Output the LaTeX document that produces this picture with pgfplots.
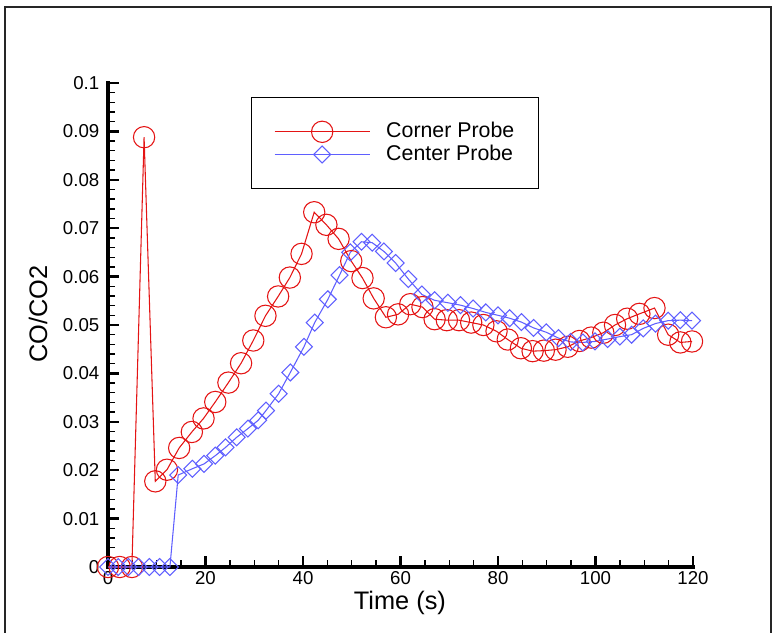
\documentclass[border=0pt]{standalone}
\usepackage{fontspec}
\setmainfont{Liberation Sans}
\usepackage{pgfplots}
\pgfplotsset{compat=1.18}
\definecolor{cred}{RGB}{228,20,20}
\definecolor{cblue}{RGB}{95,95,255}
\begin{document}
\begin{tikzpicture}
\useasboundingbox (-81pt,-48.75pt) rectangle (501.75pt,425.25pt);
\draw[line width=1.2pt, black!85] (-77.25pt,-60pt) -- (-77.25pt,420pt) -- (497.25pt,420pt) -- (497.25pt,-60pt);
\begin{axis}[
  scale only axis, width=438.75pt, height=363pt,
  xmin=0, xmax=120, ymin=0, ymax=0.1,
  axis lines*=left,
  clip=false,
  axis line style={line width=2.4pt, black},
  xtick={0,20,40,60,80,100,120},
  xticklabels={0,20,40,60,80,100,120},
  ytick={0,0.01,0.02,0.03,0.04,0.05,0.06,0.07,0.08,0.09,0.1},
  yticklabels={0,0.01,0.02,0.03,0.04,0.05,0.06,0.07,0.08,0.09,0.1},
  minor x tick num=3, minor y tick num=4,
  tick align=inside,
  major tick length=8.5pt, minor tick length=5pt,
  tick style={line width=1pt, black},
  major tick style={line width=1.9pt, black},
  minor tick style={line width=1pt, black},
  /pgf/number format/assume math mode=true,
  tick label style={font=\fontsize{14}{16}\selectfont},
  yticklabel style={xshift=-3pt},
  xlabel={Time (s)}, ylabel={CO/CO2},
  label style={font=\fontsize{19}{22}\selectfont},
  xlabel style={at={(axis description cs:0.499,-0.075)}, anchor=center},
  ylabel style={at={(axis description cs:-0.1197,0.523)}, anchor=center},
  legend cell align=left,
  legend style={at={(axis description cs:0.2444,0.9705)}, anchor=north west,
    draw=black, line width=0.8pt, fill=white,
    font=\fontsize{16}{18}\selectfont,
    inner xsep=17pt, inner ysep=17pt, row sep=0pt,
    nodes={inner sep=1pt, text height=12pt, text depth=3pt},
    /tikz/every odd column/.append style={column sep=11pt}},
  legend image code/.code={\draw[mark repeat=2,mark phase=2] plot coordinates {(0pt,0pt) (35.6pt,0pt) (71.25pt,0pt)};},
]
\draw[line width=2.4pt, black, line cap=rect] (rel axis cs:0,1) -- (rel axis cs:0,0) -- (rel axis cs:1,0);
\addplot[color=cred, line width=0.8pt, mark=o, mark size=8pt, mark options={line width=0.8pt}] coordinates {
(0,0) (2.4,0) (4.9,0) (7.4,0.0888) (9.7,0.0177) (12.1,0.0201) (14.6,0.0246)
(17.2,0.0279) (19.6,0.0307) (22.0,0.0341) (24.7,0.0381) (27.3,0.0421)
(29.8,0.0468) (32.3,0.0519) (34.9,0.0559) (37.3,0.0598) (39.7,0.0647)
(42.3,0.0733) (44.8,0.0707) (47.3,0.0678) (49.9,0.0632) (52.2,0.0597)
(54.5,0.0555) (57.0,0.0516) (59.5,0.0522) (62.0,0.0543) (64.5,0.0537)
(67.0,0.0512) (69.5,0.0510) (72.0,0.0510) (74.5,0.0505) (77.0,0.0500)
(79.7,0.0487) (82.0,0.0470) (84.7,0.0452) (87.1,0.0446) (89.4,0.0447)
(91.8,0.0449) (94.3,0.0455) (96.7,0.0467) (99.1,0.0474) (101.6,0.0484)
(104.0,0.0500) (106.5,0.0513) (109.0,0.0523) (112.1,0.0535) (114.9,0.0480)
(117.4,0.0464) (119.8,0.0466)
};
\addlegendentry{Corner Probe}
\addplot[color=cblue, line width=0.8pt, mark=square, mark size=4.5pt, mark options={rotate=45, line width=0.8pt}] coordinates {
(0,0) (2.1,0) (4.2,0) (6.3,0) (8.5,0) (10.6,0) (12.7,0)
(14.4,0.0190) (17.3,0.0203) (19.7,0.0213) (22.0,0.0230) (24.1,0.0247)
(26.4,0.0268) (28.7,0.0286) (30.8,0.0303) (32.4,0.0323) (35.0,0.0358)
(37.4,0.0402) (40.2,0.0455) (42.4,0.0505) (45.1,0.0553) (47.5,0.0603)
(49.7,0.0650) (52.0,0.0672) (54.2,0.0670) (56.6,0.0652) (59.0,0.0628)
(61.6,0.0595) (64.4,0.0563) (67.0,0.0551) (69.7,0.0546) (72.3,0.0541)
(74.9,0.0534) (77.5,0.0526) (80.0,0.0520) (82.4,0.0514) (84.8,0.0506)
(87.3,0.0494) (89.9,0.0485) (92.4,0.0473) (94.9,0.0465) (97.4,0.0464)
(99.9,0.0466) (102.5,0.0471) (105.0,0.0476) (107.4,0.0480) (109.8,0.0493)
(112.3,0.0503) (114.9,0.0509) (117.4,0.0510) (119.8,0.0509)
};
\addlegendentry{Center Probe}
\end{axis}
\end{tikzpicture}
\end{document}
